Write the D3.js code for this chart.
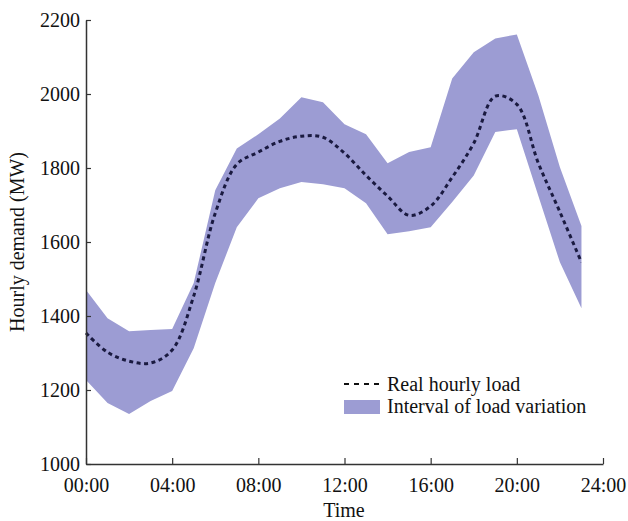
<!DOCTYPE html>
<html>
<head>
<meta charset="utf-8">
<script src="https://cdn.jsdelivr.net/npm/d3@7"></script>
<style>
  html, body { margin: 0; padding: 0; background: #fff; }
  svg { display: block; }
  text { font-family: "Liberation Serif", "Times New Roman", serif; fill: #111; }
</style>
</head>
<body>
<svg id="chart" width="628" height="521"></svg>
<script>
const hours = [0,1,2,3,4,5,6,7,8,9,10,11,12,13,14,15,16,17,18,19,20,21,22,23];
const realLoad = [1354,1302,1278,1273,1308,1454,1678,1810,1843,1872,1886,1883,1840,1780,1724,1672,1697,1775,1867,1994,1972,1813,1681,1545];
const upperBound = [1470,1394,1359,1362,1365,1489,1740,1853,1891,1934,1991,1978,1918,1891,1813,1843,1856,2042,2113,2150,2161,1996,1802,1643];
const lowerBound = [1227,1165,1135,1170,1197,1313,1489,1640,1718,1745,1762,1756,1745,1705,1621,1629,1640,1708,1780,1897,1905,1724,1545,1421];
const xTicks = [0,4,8,12,16,20,24];
const xTickLabels = ["00:00","04:00","08:00","12:00","16:00","20:00","24:00"];
const yTicks = [1000,1200,1400,1600,1800,2000,2200];
const legendLabels = ["Real hourly load","Interval of load variation"];

const svg = d3.select("#chart");
const x = d3.scaleLinear().domain([0,24]).range([86,603]);
const y = d3.scaleLinear().domain([1000,2200]).range([464,20]);

const bandData = hours.map((h,i)=>({h, lo: lowerBound[i], hi: upperBound[i]}));
const lineData = hours.map((h,i)=>({h, v: realLoad[i]}));

svg.append("path")
  .datum(bandData)
  .attr("fill","#9c9cd3")
  .attr("d", d3.area().x(d=>x(d.h)).y0(d=>y(d.lo)).y1(d=>y(d.hi)).curve(d3.curveLinear));

svg.append("path")
  .datum(lineData)
  .attr("fill","none")
  .attr("stroke","#1a1a40")
  .attr("stroke-width",3)
  .attr("stroke-dasharray","4,3.5")
  .attr("d", d3.line().x(d=>x(d.h)).y(d=>y(d.v)).curve(d3.curveCatmullRom.alpha(0.5)));

// axes
const xAxis = d3.axisBottom(x).tickValues(xTicks)
  .tickFormat((d,i)=>xTickLabels[i]).tickSizeInner(-6).tickSizeOuter(0).tickPadding(14);
const gx = svg.append("g").attr("transform","translate(0,464)").call(xAxis);
gx.select(".domain").attr("stroke","#333").attr("stroke-width",1.5);
gx.selectAll(".tick line").attr("stroke","#333").attr("stroke-width",1.2);
gx.selectAll("text").attr("font-size",20).attr("fill","#111")
  .style("font-family","'Liberation Serif', serif");

const yAxis = d3.axisLeft(y).tickValues(yTicks).tickFormat(d3.format("d"))
  .tickSizeInner(-5).tickSizeOuter(0).tickPadding(6);
const gy = svg.append("g").attr("transform","translate(86,0)").call(yAxis);
gy.select(".domain").attr("stroke","#333").attr("stroke-width",1.5);
gy.selectAll(".tick line").attr("stroke","#333").attr("stroke-width",1.2);
gy.selectAll("text").attr("font-size",20).attr("fill","#111")
  .style("font-family","'Liberation Serif', serif");

// axis titles
svg.append("text").attr("x",344).attr("y",517).attr("text-anchor","middle")
  .attr("font-size",20).text("Time");
svg.append("text").attr("transform","translate(24,242) rotate(-90)")
  .attr("text-anchor","middle").attr("font-size",20).text("Hourly demand (MW)");

// legend
const lg = svg.append("g");
lg.append("line").attr("x1",344).attr("x2",381).attr("y1",384).attr("y2",384)
  .attr("stroke","#111").attr("stroke-width",2).attr("stroke-dasharray","5,5");
lg.append("text").attr("x",387).attr("y",391).attr("font-size",20).text(legendLabels[0]);
lg.append("rect").attr("x",344).attr("y",400).attr("width",36).attr("height",14).attr("fill","#9c9cd3");
lg.append("text").attr("x",387).attr("y",413).attr("font-size",20).text(legendLabels[1]);
</script>
</body>
</html>
